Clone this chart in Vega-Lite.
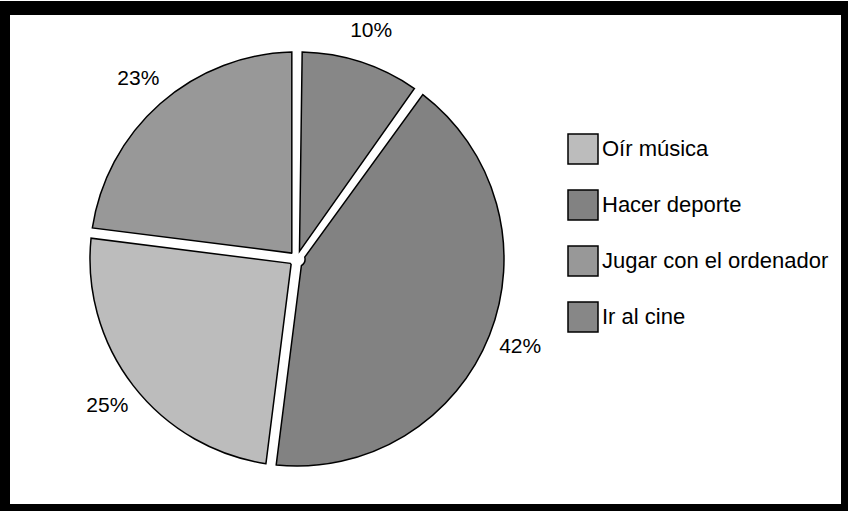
{
  "$schema": "https://vega.github.io/schema/vega-lite/v6.json",
  "autosize": "none",
  "width": 845,
  "height": 503,
  "padding": {"left": 3, "top": 8, "right": 0, "bottom": 0},
  "background": "white",
  "config": {
    "view": {"stroke": "black", "strokeWidth": 14, "fill": "white"},
    "font": "Liberation Sans"
  },
  "data": {
    "values": [
      {"actividad": "Ir al cine", "valor": 0.10, "orden": 1},
      {"actividad": "Hacer deporte", "valor": 0.42, "orden": 2},
      {"actividad": "Oír música", "valor": 0.25, "orden": 3},
      {"actividad": "Jugar con el ordenador", "valor": 0.23, "orden": 4}
    ]
  },
  "encoding": {
    "theta": {"field": "valor", "type": "quantitative", "stack": true},
    "order": {"field": "orden", "type": "quantitative"},
    "x": {"value": 294},
    "y": {"value": 251}
  },
  "layer": [
    {
      "mark": {"type": "arc", "outerRadius": 207, "innerRadius": 8, "padAngle": 0.05, "stroke": "black", "strokeWidth": 1.5},
      "encoding": {
        "color": {
          "field": "actividad",
          "type": "nominal",
          "sort": ["Oír música", "Hacer deporte", "Jugar con el ordenador", "Ir al cine"],
          "scale": {
            "domain": ["Oír música", "Hacer deporte", "Jugar con el ordenador", "Ir al cine"],
            "range": ["#bcbcbc", "#828282", "#989898", "#878787"]
          },
          "legend": {
            "orient": "none",
            "legendX": 564,
            "legendY": 125,
            "title": null,
            "symbolType": "square",
            "symbolSize": 900,
            "symbolStrokeColor": "black",
            "symbolStrokeWidth": 1.5,
            "symbolOpacity": 1,
            "labelFontSize": 22,
            "labelColor": "black",
            "labelFont": "Liberation Sans",
            "labelOffset": 3,
            "rowPadding": 20,
            "padding": 0,
            "labelLimit": 400
          }
        }
      }
    },
    {
      "mark": {"type": "text", "radius": 240, "fontSize": 21, "color": "black", "align": "center", "baseline": "middle"},
      "encoding": {
        "text": {"field": "valor", "type": "quantitative", "format": ".0%"}
      }
    }
  ]
}
